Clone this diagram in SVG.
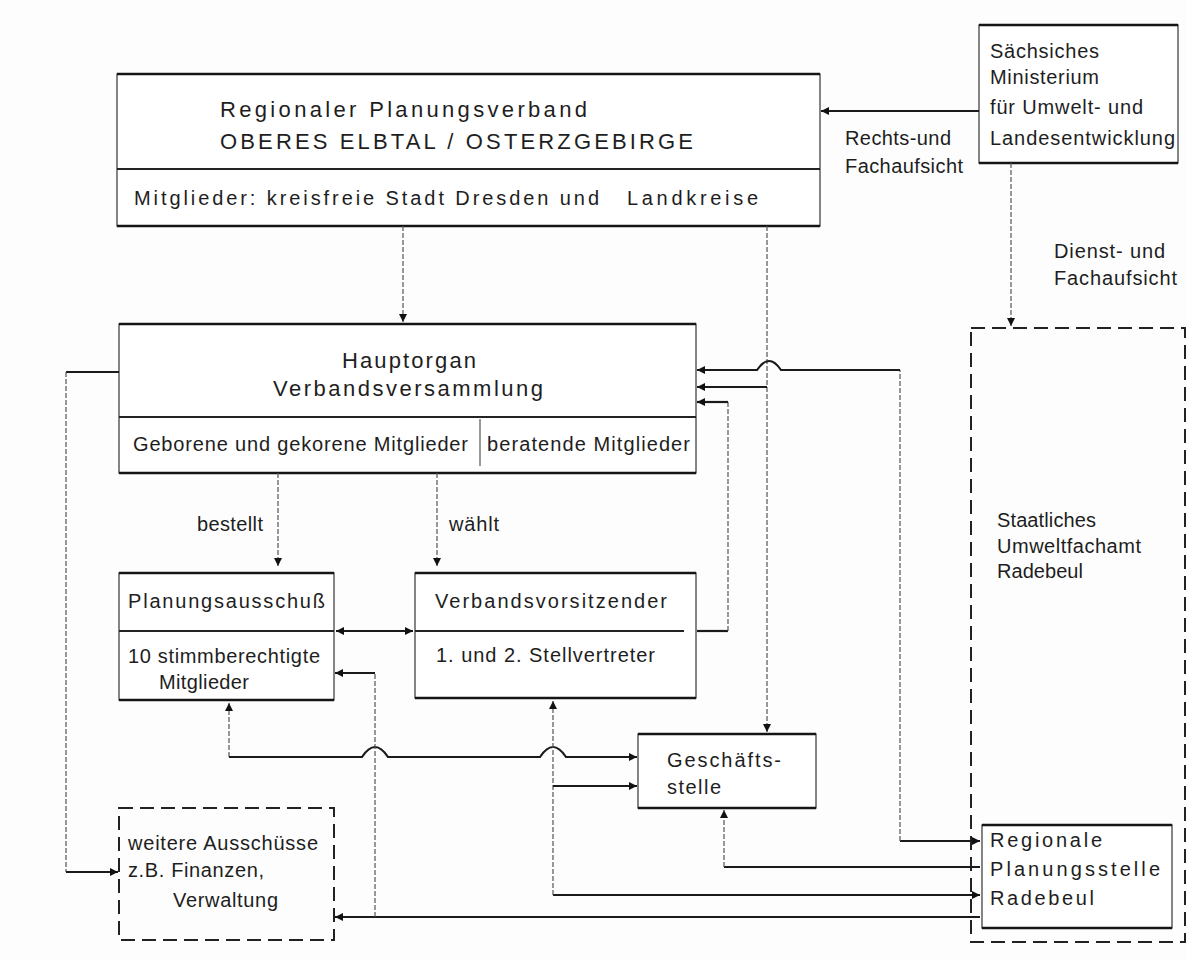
<svg xmlns="http://www.w3.org/2000/svg" width="1187" height="960" viewBox="0 0 1187 960">
<defs>
<style>
text{font-family:"Liberation Sans",Arial,sans-serif;fill:#1e1e1e;font-size:20px}
.t21{font-size:22px}
.box{fill:#fff;stroke:#444;stroke-width:1.3}
.edge{stroke:#151515;stroke-width:2.4;fill:none}
.div{stroke:#222;stroke-width:2;fill:none}
.dbox{fill:none;stroke:#222;stroke-width:2;stroke-dasharray:14 7}
.solid{fill:none;stroke:#1a1a1a;stroke-width:2.2}
.thin{fill:none;stroke:#555;stroke-width:1.2;stroke-dasharray:5 2}
</style>
<marker id="arr" viewBox="0 0 10 10" refX="10" refY="5" markerUnits="userSpaceOnUse" markerWidth="11" markerHeight="8" orient="auto-start-reverse">
<path d="M0,0 L10,5 L0,10 z" fill="#111"/>
</marker>
</defs>
<rect x="0" y="0" width="1187" height="960" fill="#fdfdfd"/>

<g id="verband">
<rect class="box" x="117" y="74" width="703" height="152"/>
<path class="edge" d="M117,74 H820 M117,226 H820"/>
<path class="div" d="M117,169 H820"/>
<text class="t21" x="220" y="117" textLength="367" lengthAdjust="spacing">Regionaler Planungsverband</text>
<text class="t21" x="220" y="149" textLength="473" lengthAdjust="spacing">OBERES ELBTAL / OSTERZGEBIRGE</text>
<text x="134" y="205" textLength="465" lengthAdjust="spacing">Mitglieder: kreisfreie Stadt Dresden und</text>
<text x="627" y="205" textLength="131" lengthAdjust="spacing">Landkreise</text>
</g>

<g id="ministerium">
<rect class="box" x="979" y="25" width="199" height="138"/>
<path class="edge" d="M979,25 H1178 M979,163 H1178"/>
<text x="990" y="58" textLength="109" lengthAdjust="spacing">Sächsiches</text>
<text x="990" y="84" textLength="109" lengthAdjust="spacing">Ministerium</text>
<text x="990" y="114" textLength="153" lengthAdjust="spacing">für Umwelt- und</text>
<text x="990" y="145" textLength="185" lengthAdjust="spacing">Landesentwicklung</text>
</g>

<g id="hauptorgan">
<rect class="box" x="119" y="324" width="577" height="149"/>
<path class="edge" d="M119,324 H696 M119,473 H696"/>
<path class="div" d="M119,417 H696"/>
<path d="M480,419 V466" stroke="#555" stroke-width="1.2"/>
<text class="t21" x="342" y="368" textLength="134" lengthAdjust="spacing">Hauptorgan</text>
<text class="t21" x="273" y="396" textLength="270" lengthAdjust="spacing">Verbandsversammlung</text>
<text x="133" y="451" textLength="335" lengthAdjust="spacing">Geborene und gekorene Mitglieder</text>
<text x="487" y="451" textLength="203" lengthAdjust="spacing">beratende Mitglieder</text>
</g>

<g id="planungsausschuss">
<rect class="box" x="119" y="573" width="215" height="127"/>
<path class="edge" d="M119,573 H334 M119,700 H334"/>
<path class="div" d="M119,631 H334"/>
<text x="128" y="608" textLength="197" lengthAdjust="spacing">Planungsausschuß</text>
<text x="128" y="663" textLength="192" lengthAdjust="spacing">10 stimmberechtigte</text>
<text x="159" y="689" textLength="90" lengthAdjust="spacing">Mitglieder</text>
</g>

<g id="vorsitzender">
<rect class="box" x="415" y="573" width="281" height="125"/>
<path class="edge" d="M415,573 H696 M415,698 H696"/>
<path class="div" d="M415,631 H684"/>
<text x="435" y="608" textLength="232" lengthAdjust="spacing">Verbandsvorsitzender</text>
<text x="436" y="662" textLength="219" lengthAdjust="spacing">1. und 2. Stellvertreter</text>
</g>

<g id="geschaeftsstelle">
<rect class="box" x="638" y="734" width="178" height="74"/>
<path class="edge" d="M638,734 H816 M638,808 H816"/>
<text x="667" y="767" textLength="114" lengthAdjust="spacing">Geschäfts-</text>
<text x="667" y="794" textLength="54" lengthAdjust="spacing">stelle</text>
</g>

<g id="weitere">
<rect class="dbox" x="119" y="808" width="215" height="132"/>
<text x="128" y="850" textLength="190" lengthAdjust="spacing">weitere Ausschüsse</text>
<text x="128" y="877" textLength="136" lengthAdjust="spacing">z.B. Finanzen,</text>
<text x="173" y="907" textLength="105" lengthAdjust="spacing">Verwaltung</text>
</g>

<g id="umweltfachamt">
<rect class="dbox" x="971" y="328" width="214" height="614"/>
<text x="997" y="527" textLength="99" lengthAdjust="spacing">Staatliches</text>
<text x="997" y="553" textLength="144" lengthAdjust="spacing">Umweltfachamt</text>
<text x="997" y="578" textLength="86" lengthAdjust="spacing">Radebeul</text>
</g>

<g id="planungsstelle">
<rect class="box" x="982" y="825" width="190" height="103"/>
<path class="edge" d="M982,825 H1172 M982,928 H1172"/>
<text x="990" y="847" textLength="112" lengthAdjust="spacing">Regionale</text>
<text x="990" y="876" textLength="170" lengthAdjust="spacing">Planungsstelle</text>
<text x="990" y="905" textLength="104" lengthAdjust="spacing">Radebeul</text>
</g>

<g id="connectors">
<path class="solid" d="M979,111 H821" marker-end="url(#arr)"/>
<text x="845" y="145" textLength="106" lengthAdjust="spacing">Rechts-und</text>
<text x="845" y="173" textLength="118" lengthAdjust="spacing">Fachaufsicht</text>
<path class="thin" d="M1011,163 V326" marker-end="url(#arr)"/>
<text x="1054" y="258" textLength="111" lengthAdjust="spacing">Dienst- und</text>
<text x="1054" y="285" textLength="123" lengthAdjust="spacing">Fachaufsicht</text>
<path class="thin" d="M403,226 V322" marker-end="url(#arr)"/>
<path class="thin" d="M767,226 V732" marker-end="url(#arr)"/>
<path class="solid" d="M900,841 H980" marker-end="url(#arr)"/>
<path class="thin" d="M900,841 V370"/>
<path class="solid" d="M900,370 H781 Q769,352 757,370 H697" marker-end="url(#arr)"/>
<path class="solid" d="M767,387 H697" marker-end="url(#arr)"/>
<path class="solid" d="M697,631 H728"/>
<path class="thin" d="M728,631 V402"/>
<path class="solid" d="M728,402 H697" marker-end="url(#arr)"/>
<path class="solid" d="M336,631 H413" marker-start="url(#arr)" marker-end="url(#arr)"/>
<path class="thin" d="M278,473 V566" marker-end="url(#arr)"/>
<text x="197" y="531" textLength="66" lengthAdjust="spacing">bestellt</text>
<path class="thin" d="M437,473 V566" marker-end="url(#arr)"/>
<text x="449" y="531" textLength="50" lengthAdjust="spacing">wählt</text>
<path class="solid" d="M119,372 H66"/>
<path class="thin" d="M66,372 V872"/>
<path class="solid" d="M66,872 H118" marker-end="url(#arr)"/>
<path class="thin" d="M229,757 V703" marker-end="url(#arr)"/>
<path class="solid" d="M229,757 H362 Q375,737 388,757 H540 Q553,737 566,757 H637" marker-end="url(#arr)"/>
<path class="solid" d="M553,895 H980" marker-end="url(#arr)"/>
<path class="thin" d="M553,895 V701" marker-end="url(#arr)"/>
<path class="solid" d="M553,786 H637" marker-end="url(#arr)"/>
<path class="solid" d="M980,867 H724"/>
<path class="thin" d="M724,867 V810" marker-end="url(#arr)"/>
<path class="solid" d="M980,917 H335" marker-end="url(#arr)"/>
<path class="thin" d="M375,917 V673"/>
<path class="solid" d="M375,673 H335" marker-end="url(#arr)"/>
</g>
</svg>
